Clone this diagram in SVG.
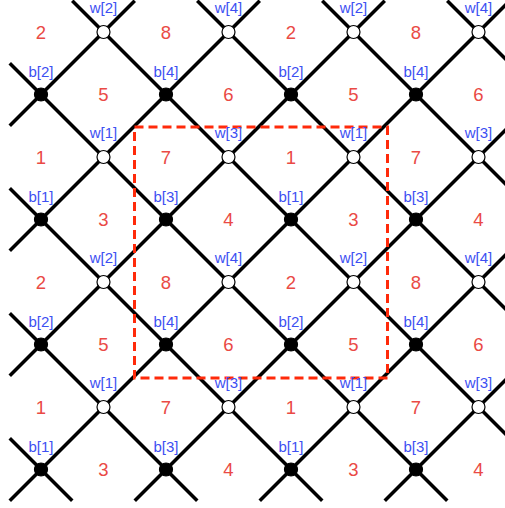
<svg xmlns="http://www.w3.org/2000/svg" width="505" height="508" viewBox="0 0 505 508">
<style>
.e{stroke:#000;stroke-width:3.5;fill:none;stroke-linecap:butt}
.w{fill:#fff;stroke:#000;stroke-width:1.2}
.b{fill:#000;stroke:#000;stroke-width:1.2}
.lb{font-family:"Liberation Sans",Arial,sans-serif;font-size:15px;fill:#3d50f2;text-anchor:middle}
.f{font-family:"Liberation Sans",Arial,sans-serif;font-size:18.5px;fill:#ea4a45;text-anchor:middle}
.d{fill:none;stroke:#ff2a0a;stroke-width:3;stroke-dasharray:9 5}
</style>
<rect width="505" height="508" fill="#fff"/>
<g id="connectors" class="e">
<line x1="9.75" y1="438.25" x2="72.25" y2="500.75"/>
<line x1="9.75" y1="313.25" x2="197.25" y2="500.75"/>
<line x1="9.75" y1="188.25" x2="322.25" y2="500.75"/>
<line x1="9.75" y1="63.25" x2="447.25" y2="500.75"/>
<line x1="72.25" y1="0.75" x2="509.75" y2="438.25"/>
<line x1="197.25" y1="0.75" x2="509.75" y2="313.25"/>
<line x1="322.25" y1="0.75" x2="509.75" y2="188.25"/>
<line x1="447.25" y1="0.75" x2="509.75" y2="63.25"/>
<line x1="9.75" y1="125.75" x2="134.75" y2="0.75"/>
<line x1="9.75" y1="250.75" x2="259.75" y2="0.75"/>
<line x1="9.75" y1="375.75" x2="384.75" y2="0.75"/>
<line x1="9.75" y1="500.75" x2="509.75" y2="0.75"/>
<line x1="134.75" y1="500.75" x2="509.75" y2="125.75"/>
<line x1="259.75" y1="500.75" x2="509.75" y2="250.75"/>
<line x1="384.75" y1="500.75" x2="509.75" y2="375.75"/>
</g>
<g id="faces" class="f">
<text x="41" y="38.5">2</text><text x="166" y="38.5">8</text><text x="291" y="38.5">2</text><text x="416" y="38.5">8</text>
<text x="103.5" y="101">5</text><text x="228.5" y="101">6</text><text x="353.5" y="101">5</text><text x="478.5" y="101">6</text>
<text x="41" y="163.5">1</text><text x="166" y="163.5">7</text><text x="291" y="163.5">1</text><text x="416" y="163.5">7</text>
<text x="103.5" y="226">3</text><text x="228.5" y="226">4</text><text x="353.5" y="226">3</text><text x="478.5" y="226">4</text>
<text x="41" y="288.5">2</text><text x="166" y="288.5">8</text><text x="291" y="288.5">2</text><text x="416" y="288.5">8</text>
<text x="103.5" y="351">5</text><text x="228.5" y="351">6</text><text x="353.5" y="351">5</text><text x="478.5" y="351">6</text>
<text x="41" y="413.5">1</text><text x="166" y="413.5">7</text><text x="291" y="413.5">1</text><text x="416" y="413.5">7</text>
<text x="103.5" y="476">3</text><text x="228.5" y="476">4</text><text x="353.5" y="476">3</text><text x="478.5" y="476">4</text>
</g>
<rect id="region" class="d" x="134.5" y="127" width="253" height="251"/>
<g id="n-w-0-1"><circle class="w" cx="103.5" cy="32" r="6.5"/><text class="lb" x="103.5" y="12.5">w[2]</text></g>
<g id="n-w-0-3"><circle class="w" cx="228.5" cy="32" r="6.5"/><text class="lb" x="228.5" y="12.5">w[4]</text></g>
<g id="n-w-0-5"><circle class="w" cx="353.5" cy="32" r="6.5"/><text class="lb" x="353.5" y="12.5">w[2]</text></g>
<g id="n-w-0-7"><circle class="w" cx="478.5" cy="32" r="6.5"/><text class="lb" x="478.5" y="12.5">w[4]</text></g>
<g id="n-b-1-0"><circle class="b" cx="41" cy="94.5" r="6.5"/><text class="lb" x="41" y="76.5">b[2]</text></g>
<g id="n-b-1-2"><circle class="b" cx="166" cy="94.5" r="6.5"/><text class="lb" x="166" y="76.5">b[4]</text></g>
<g id="n-b-1-4"><circle class="b" cx="291" cy="94.5" r="6.5"/><text class="lb" x="291" y="76.5">b[2]</text></g>
<g id="n-b-1-6"><circle class="b" cx="416" cy="94.5" r="6.5"/><text class="lb" x="416" y="76.5">b[4]</text></g>
<g id="n-w-2-1"><circle class="w" cx="103.5" cy="157" r="6.5"/><text class="lb" x="103.5" y="137.5">w[1]</text></g>
<g id="n-w-2-3"><circle class="w" cx="228.5" cy="157" r="6.5"/><text class="lb" x="228.5" y="137.5">w[3]</text></g>
<g id="n-w-2-5"><circle class="w" cx="353.5" cy="157" r="6.5"/><text class="lb" x="353.5" y="137.5">w[1]</text></g>
<g id="n-w-2-7"><circle class="w" cx="478.5" cy="157" r="6.5"/><text class="lb" x="478.5" y="137.5">w[3]</text></g>
<g id="n-b-3-0"><circle class="b" cx="41" cy="219.5" r="6.5"/><text class="lb" x="41" y="201.5">b[1]</text></g>
<g id="n-b-3-2"><circle class="b" cx="166" cy="219.5" r="6.5"/><text class="lb" x="166" y="201.5">b[3]</text></g>
<g id="n-b-3-4"><circle class="b" cx="291" cy="219.5" r="6.5"/><text class="lb" x="291" y="201.5">b[1]</text></g>
<g id="n-b-3-6"><circle class="b" cx="416" cy="219.5" r="6.5"/><text class="lb" x="416" y="201.5">b[3]</text></g>
<g id="n-w-4-1"><circle class="w" cx="103.5" cy="282" r="6.5"/><text class="lb" x="103.5" y="262.5">w[2]</text></g>
<g id="n-w-4-3"><circle class="w" cx="228.5" cy="282" r="6.5"/><text class="lb" x="228.5" y="262.5">w[4]</text></g>
<g id="n-w-4-5"><circle class="w" cx="353.5" cy="282" r="6.5"/><text class="lb" x="353.5" y="262.5">w[2]</text></g>
<g id="n-w-4-7"><circle class="w" cx="478.5" cy="282" r="6.5"/><text class="lb" x="478.5" y="262.5">w[4]</text></g>
<g id="n-b-5-0"><circle class="b" cx="41" cy="344.5" r="6.5"/><text class="lb" x="41" y="326.5">b[2]</text></g>
<g id="n-b-5-2"><circle class="b" cx="166" cy="344.5" r="6.5"/><text class="lb" x="166" y="326.5">b[4]</text></g>
<g id="n-b-5-4"><circle class="b" cx="291" cy="344.5" r="6.5"/><text class="lb" x="291" y="326.5">b[2]</text></g>
<g id="n-b-5-6"><circle class="b" cx="416" cy="344.5" r="6.5"/><text class="lb" x="416" y="326.5">b[4]</text></g>
<g id="n-w-6-1"><circle class="w" cx="103.5" cy="407" r="6.5"/><text class="lb" x="103.5" y="387.5">w[1]</text></g>
<g id="n-w-6-3"><circle class="w" cx="228.5" cy="407" r="6.5"/><text class="lb" x="228.5" y="387.5">w[3]</text></g>
<g id="n-w-6-5"><circle class="w" cx="353.5" cy="407" r="6.5"/><text class="lb" x="353.5" y="387.5">w[1]</text></g>
<g id="n-w-6-7"><circle class="w" cx="478.5" cy="407" r="6.5"/><text class="lb" x="478.5" y="387.5">w[3]</text></g>
<g id="n-b-7-0"><circle class="b" cx="41" cy="469.5" r="6.5"/><text class="lb" x="41" y="451.5">b[1]</text></g>
<g id="n-b-7-2"><circle class="b" cx="166" cy="469.5" r="6.5"/><text class="lb" x="166" y="451.5">b[3]</text></g>
<g id="n-b-7-4"><circle class="b" cx="291" cy="469.5" r="6.5"/><text class="lb" x="291" y="451.5">b[1]</text></g>
<g id="n-b-7-6"><circle class="b" cx="416" cy="469.5" r="6.5"/><text class="lb" x="416" y="451.5">b[3]</text></g>
</svg>
